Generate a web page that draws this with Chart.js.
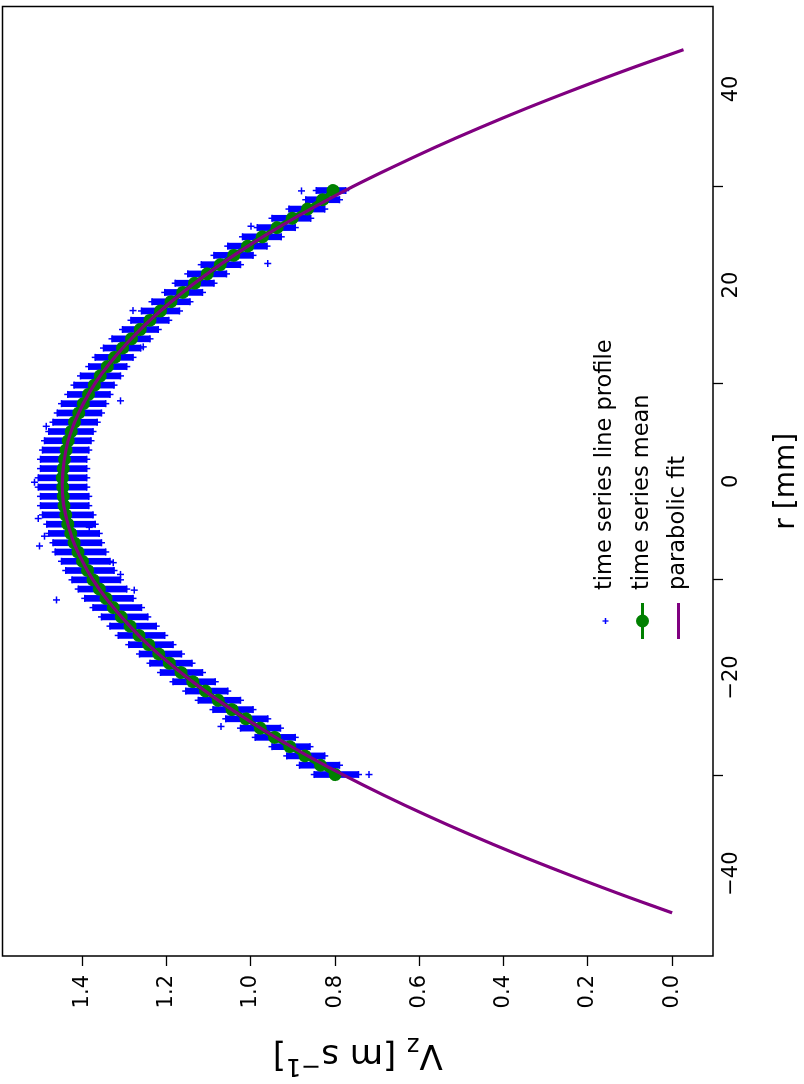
<!DOCTYPE html>
<html><head><meta charset="utf-8">
<script src="https://cdn.jsdelivr.net/npm/chart.js@4/dist/chart.umd.min.js"></script>
<style>
html,body{margin:0;padding:0;background:#fff;overflow:hidden;width:804px;height:1084px}
#wrap{position:absolute;left:0;top:0;width:1084px;height:808px;transform-origin:0 0;transform:translate(-4px,1084px) rotate(-90deg);}
</style></head><body>
<div id="wrap"><canvas id="c" width="1084" height="808"></canvas></div>
<script>
// radial positions of measured rows [mm]
const rRows = [-29.9,-28.95,-28.0,-27.06,-26.11,-25.17,-24.22,-23.28,-22.33,-21.39,-20.44,-19.5,-18.55,-17.61,-16.66,-15.72,-14.77,-13.83,-12.88,-11.94,-10.99,-10.05,-9.1,-8.16,-7.21,-6.27,-5.32,-4.38,-3.43,-2.49,-1.54,-0.6,0.35,1.29,2.24,3.18,4.13,5.07,6.02,6.96,7.91,8.85,9.8,10.74,11.69,12.63,13.58,14.52,15.47,16.41,17.36,18.3,19.25,20.19,21.14,22.08,23.03,23.97,24.92,25.86,26.81,27.75,28.7,29.64];
// time series mean Vz [m/s]
const meanV = [0.800,0.835,0.872,0.908,0.944,0.978,1.012,1.045,1.078,1.108,1.138,1.166,1.194,1.219,1.243,1.266,1.287,1.308,1.327,1.344,1.360,1.375,1.388,1.400,1.411,1.420,1.428,1.435,1.440,1.444,1.446,1.447,1.448,1.446,1.443,1.439,1.434,1.427,1.419,1.409,1.398,1.386,1.372,1.358,1.341,1.324,1.305,1.284,1.263,1.240,1.215,1.190,1.162,1.134,1.104,1.073,1.041,1.008,0.973,0.938,0.902,0.866,0.830,0.805];
// extent of the dense time-series cloud per row
const bandHi = [0.850,0.885,0.915,0.950,0.990,1.025,1.060,1.090,1.125,1.155,1.185,1.215,1.240,1.265,1.290,1.315,1.335,1.355,1.375,1.395,1.410,1.425,1.440,1.450,1.465,1.470,1.480,1.485,1.495,1.500,1.500,1.505,1.505,1.500,1.500,1.495,1.490,1.480,1.470,1.460,1.450,1.435,1.420,1.405,1.385,1.370,1.350,1.330,1.305,1.285,1.260,1.235,1.205,1.180,1.150,1.118,1.088,1.055,1.020,0.985,0.950,0.910,0.870,0.845];
const bandLo = [0.745,0.790,0.825,0.860,0.895,0.930,0.960,0.995,1.025,1.055,1.085,1.115,1.140,1.165,1.185,1.205,1.225,1.245,1.260,1.280,1.295,1.310,1.325,1.335,1.345,1.355,1.360,1.370,1.375,1.385,1.385,1.390,1.390,1.390,1.390,1.385,1.380,1.375,1.365,1.355,1.345,1.335,1.325,1.310,1.295,1.280,1.262,1.240,1.220,1.195,1.170,1.145,1.115,1.088,1.058,1.025,0.995,0.962,0.928,0.895,0.858,0.825,0.790,0.775];
// isolated samples
const outR = [-0.1,-3.8,-6.6,-5.6,-12.1,-11.1,-8.3,-9.5,-4.7,-25.0,-29.9,5.6,8.2,13.7,17.4,22.2,26.0,29.6];
const outV = [1.514,1.505,1.502,1.490,1.462,1.277,1.327,1.310,1.384,1.071,0.720,1.486,1.310,1.256,1.280,0.960,1.000,0.880];
// parabolic fit
const fitR = [-44,-42,-40,-38,-36,-34,-32,-30,-28,-26,-24,-22,-20,-18,-16,-14,-12,-10,-8,-6,-4,-2,0,2,4,6,8,10,12,14,16,18,20,22,24,26,28,30,32,34,36,38,40,42,44];
const fitV = [0.000,0.129,0.252,0.370,0.481,0.586,0.685,0.778,0.865,0.946,1.020,1.089,1.152,1.209,1.260,1.304,1.343,1.376,1.402,1.423,1.437,1.446,1.448,1.444,1.435,1.419,1.397,1.370,1.336,1.296,1.250,1.198,1.140,1.076,1.006,0.930,0.848,0.760,0.665,0.565,0.459,0.347,0.228,0.104,-0.027];
const xTicks = [-40,-20,0,20,40];
const yTicks = [0.0,0.2,0.4,0.6,0.8,1.0,1.2,1.4];
const legendLabels = ['time series line profile','time series mean','parabolic fit'];

const FONT = 'DejaVu Sans';
const BLUE = '#0000ff', GREEN = '#008000', PURPLE = '#800080';
const fmtMinus = v => (v < 0 ? '\u2212' + Math.abs(v) : String(v));

const bandData = rRows.map((r, i) => ({x: r, y: [bandLo[i], bandHi[i]]}));
const endData = [];
rRows.forEach((r, i) => { endData.push({x: r, y: bandLo[i]}); endData.push({x: r, y: bandHi[i]}); });
const outData = outR.map((r, i) => ({x: r, y: outV[i]}));
const meanData = rRows.map((r, i) => ({x: r, y: meanV[i]}));
const fitData = fitR.map((r, i) => ({x: r, y: fitV[i]}));

const extras = {
  id: 'extras',
  afterDraw(chart) {
    const ctx = chart.ctx, ca = chart.chartArea;
    ctx.save();
    ctx.strokeStyle = '#000'; ctx.lineWidth = 1.5;
    ctx.strokeRect(ca.left, ca.top, ca.right - ca.left, ca.bottom - ca.top);
    // x title
    ctx.fillStyle = '#000';
    ctx.font = `28px "${FONT}"`;
    ctx.textAlign = 'center'; ctx.textBaseline = 'alphabetic';
    ctx.fillText('r [mm]', (ca.left + ca.right) / 2, ca.bottom + 81);
    // y title with sub/superscript
    ctx.save();
    ctx.translate(39, (ca.top + ca.bottom) / 2);
    ctx.rotate(-Math.PI / 2);
    const big = `34px "${FONT}"`, small = `24px "${FONT}"`;
    const parts = [['V', big, 0], ['z', small, 7], [' [m s', big, 0], ['\u22121', small, -14], [']', big, 0]];
    let w = 0;
    parts.forEach(p => { ctx.font = p[1]; w += ctx.measureText(p[0]).width; });
    let x = -w / 2;
    ctx.textAlign = 'left';
    parts.forEach(p => { ctx.font = p[1]; ctx.fillText(p[0], x, p[2]); x += ctx.measureText(p[0]).width; });
    ctx.restore();
    // legend
    const rows = [ca.top + 603, ca.top + 640, ca.top + 676];
    const h0 = 445, h1 = 481, hc = (h0 + h1) / 2, tx = 494;
    ctx.font = `22.5px "${FONT}"`; ctx.textAlign = 'left'; ctx.textBaseline = 'middle';
    legendLabels.forEach((t, i) => ctx.fillText(t, tx, rows[i]));
    // handle 1: cross
    ctx.strokeStyle = BLUE; ctx.lineWidth = 1.3;
    ctx.beginPath(); ctx.moveTo(hc - 3, rows[0]); ctx.lineTo(hc + 3, rows[0]);
    ctx.moveTo(hc, rows[0] - 3); ctx.lineTo(hc, rows[0] + 3); ctx.stroke();
    // handle 2: errorbar with marker
    ctx.strokeStyle = GREEN; ctx.lineWidth = 3;
    ctx.beginPath(); ctx.moveTo(h0, rows[1]); ctx.lineTo(h1, rows[1]); ctx.stroke();
    ctx.fillStyle = GREEN; ctx.beginPath(); ctx.arc(hc, rows[1], 6.5, 0, Math.PI * 2); ctx.fill();
    // handle 3: line
    ctx.strokeStyle = PURPLE; ctx.lineWidth = 3;
    ctx.beginPath(); ctx.moveTo(h0, rows[2]); ctx.lineTo(h1, rows[2]); ctx.stroke();
    ctx.restore();
  }
};

new Chart(document.getElementById('c'), {
  data: {
    datasets: [
      {type: 'line', label: legendLabels[2], data: fitData, borderColor: PURPLE, borderWidth: 3.2, pointRadius: 0, tension: 0.4, order: 0},
      {type: 'line', label: legendLabels[1], data: meanData, borderColor: GREEN, borderWidth: 5, backgroundColor: GREEN, pointBackgroundColor: GREEN, pointBorderWidth: 0, pointRadius: 6.5, tension: 0, order: 1},
      {type: 'scatter', label: legendLabels[0], data: outData, pointStyle: 'cross', pointRadius: 3.5, borderColor: BLUE, pointBorderWidth: 1.5, order: 2},
      {type: 'scatter', label: 'ends', data: endData, pointStyle: 'cross', pointRadius: 3.5, borderColor: BLUE, pointBorderWidth: 1.5, order: 3},
      {type: 'bar', label: 'band', data: bandData, backgroundColor: BLUE, barThickness: 6, order: 4}
    ]
  },
  options: {
    responsive: false, animation: false, devicePixelRatio: 1,
    layout: {padding: {left: 0, right: 2, top: 0, bottom: 0}},
    plugins: {legend: {display: false}, tooltip: {enabled: false}},
    scales: {
      x: {
        type: 'linear', min: -48.4, max: 48.4, offset: false,
        afterBuildTicks: s => { s.ticks = xTicks.map(v => ({value: v})); },
        afterFit: s => { s.height = 91; s.paddingLeft = 0; s.paddingRight = 0; },
        grid: {display: true, drawOnChartArea: false, drawTicks: true, tickLength: 10, tickColor: '#000', tickWidth: 1.3},
        border: {display: false},
        ticks: {font: {family: FONT, size: 21}, color: '#000', padding: -4, maxRotation: 0, callback: v => fmtMinus(v)}
      },
      y: {
        type: 'linear', min: -0.097, max: 1.59,
        afterBuildTicks: s => { s.ticks = yTicks.map(v => ({value: v})); },
        afterFit: s => { s.width = 128; s.paddingTop = 0; s.paddingBottom = 0; },
        grid: {display: true, drawOnChartArea: false, drawTicks: true, tickLength: 10, tickColor: '#000', tickWidth: 1.3},
        border: {display: false},
        ticks: {font: {family: FONT, size: 21}, color: '#000', padding: 9, callback: v => v.toFixed(1)}
      }
    }
  },
  plugins: [extras]
});
</script>
</body></html>
